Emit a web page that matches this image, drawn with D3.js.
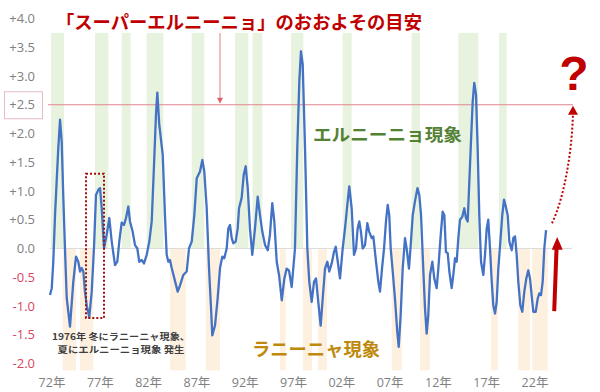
<!DOCTYPE html>
<html><head><meta charset="utf-8">
<script src="https://cdn.jsdelivr.net/npm/d3@7"></script>
<style>
html,body{margin:0;padding:0;background:#fff;}
svg{display:block;}
</style>
</head><body>
<svg id="chart" width="600" height="392"></svg>
<script>
// ---- data ----
const yTicks = [-2.0,-1.5,-1.0,-0.5,0.0,0.5,1.0,1.5,2.0,2.5,3.0,3.5,4.0];
const xTickYears = [1972,1977,1982,1987,1992,1997,2002,2007,2012,2017,2022];
const xTickLabels = ["72年","77年","82年","87年","92年","97年","02年","07年","12年","17年","22年"];
const superThreshold = 2.5;
// El Niño periods (green) [start, end] in years
const elNinoBands = [[1972.1,1973.45],[1976.66,1978.04],[1979.42,1980.35],[1982.0,1983.73],[1986.67,1987.97],[1991.15,1992.53],[1992.97,1993.98],[1996.95,1998.22],[2002.3,2003.23],[2009.44,2010.3],[2014.27,2016.34],[2018.48,2019.28]];
// La Niña periods (orange)
const laNinaBands = [[1973.31,1974.69],[1975.1,1976.48],[1984.42,1986.05],[1988.12,1989.6],[1995.81,1996.4],[1998.19,1999.12],[1999.74,2000.68],[2007.37,2008.41],[2010.3,2011.34],[2017.66,2018.35],[2020.48,2021.69],[2021.93,2023.52]];
// index series: years
const seriesYears = [1972.00,1972.18,1972.34,1972.52,1972.86,1973.04,1973.21,1973.38,1973.55,1973.73,1974.07,1974.41,1974.69,1974.93,1975.11,1975.28,1975.45,1975.62,1975.80,1976.07,1976.32,1976.55,1976.76,1977.00,1977.18,1977.35,1977.59,1977.87,1978.14,1978.39,1978.73,1978.97,1979.17,1979.42,1979.66,1979.87,1980.11,1980.28,1980.56,1980.80,1981.04,1981.24,1981.49,1981.73,1982.01,1982.28,1982.53,1982.77,1982.97,1983.11,1983.31,1983.67,1983.90,1984.08,1984.25,1984.42,1984.60,1984.87,1985.22,1985.46,1985.80,1986.15,1986.39,1986.67,1986.94,1987.19,1987.53,1987.77,1987.97,1988.22,1988.46,1988.67,1988.80,1989.08,1989.36,1989.60,1989.84,1990.04,1990.29,1990.46,1990.63,1990.81,1990.98,1991.22,1991.43,1991.57,1991.84,1992.05,1992.26,1992.47,1992.70,1992.94,1993.22,1993.50,1993.74,1993.98,1994.26,1994.54,1994.77,1995.01,1995.22,1995.47,1995.71,1995.99,1996.26,1996.50,1996.74,1997.02,1997.36,1997.60,1997.81,1997.98,1998.16,1998.40,1998.64,1998.84,1999.09,1999.33,1999.54,1999.77,2000.02,2000.23,2000.47,2000.71,2000.91,2001.16,2001.40,2001.58,2001.74,2002.02,2002.30,2002.54,2002.78,2002.98,2003.23,2003.47,2003.68,2003.85,2004.02,2004.19,2004.37,2004.61,2004.85,2005.05,2005.30,2005.47,2005.75,2005.99,2006.16,2006.37,2006.58,2006.78,2006.96,2007.12,2007.27,2007.48,2007.71,2007.95,2008.10,2008.30,2008.51,2008.75,2008.92,2009.16,2009.34,2009.55,2009.78,2010.04,2010.23,2010.41,2010.64,2010.82,2010.99,2011.16,2011.34,2011.58,2011.78,2012.03,2012.20,2012.45,2012.65,2012.82,2012.99,2013.17,2013.34,2013.58,2013.75,2013.93,2014.10,2014.27,2014.44,2014.68,2014.89,2015.06,2015.24,2015.41,2015.58,2015.76,2015.92,2016.10,2016.27,2016.44,2016.62,2016.86,2017.03,2017.21,2017.37,2017.55,2017.73,2017.89,2018.07,2018.24,2018.41,2018.62,2018.82,2019.00,2019.18,2019.38,2019.55,2019.80,2019.96,2020.14,2020.31,2020.48,2020.69,2020.89,2021.10,2021.31,2021.51,2021.69,2021.86,2022.03,2022.28,2022.49,2022.65,2022.83,2023.00,2023.17,2023.35];
// index series: values
const seriesValues = [-0.81,-0.69,-0.23,0.58,1.75,2.24,1.86,0.88,0.00,-0.86,-1.36,-0.58,-0.14,-0.23,-0.40,-0.34,-0.40,-0.75,-0.99,-1.19,-0.75,0.00,0.93,1.02,1.05,0.71,0.00,0.24,0.53,0.12,-0.29,-0.23,0.12,0.45,0.41,0.53,0.73,0.47,0.29,0.06,0.00,-0.23,-0.20,-0.26,-0.11,0.12,0.47,1.46,2.33,2.71,2.16,1.63,0.58,-0.11,-0.23,-0.20,-0.34,-0.52,-0.75,-0.64,-0.46,-0.40,0.00,0.12,0.58,1.22,1.34,1.54,1.34,0.71,-0.34,-1.04,-1.51,-1.34,-0.86,-0.34,-0.14,-0.17,0.00,0.35,0.41,0.18,0.09,0.12,0.35,0.70,0.88,1.28,1.43,1.05,0.35,-0.11,0.35,0.90,0.58,0.29,0.06,-0.03,0.24,0.79,0.47,-0.23,-0.46,-0.90,-0.52,-0.35,-0.38,-0.67,0.00,1.75,2.91,3.43,3.20,1.75,0.00,-0.58,-0.93,-0.58,-0.52,-0.93,-1.34,-0.87,-0.35,-0.23,-0.40,-0.26,-0.06,0.03,-0.17,-0.52,0.00,0.35,0.76,1.08,0.70,-0.11,0.00,0.35,0.47,0.29,0.00,0.06,0.44,0.29,0.18,0.21,-0.23,-0.58,-0.75,-0.35,0.00,0.47,0.76,0.58,0.00,-0.40,-0.87,-1.45,-1.71,-1.16,-0.35,0.18,0.00,-0.35,0.06,0.58,0.82,1.05,0.93,0.58,-0.35,-1.04,-1.48,-1.16,-0.46,-0.23,-0.52,-0.69,-0.35,0.24,0.64,0.58,-0.06,-0.08,-0.40,-0.69,-0.46,-0.17,-0.23,0.18,0.50,0.55,0.70,0.53,0.47,1.17,1.86,2.56,2.88,2.68,1.75,0.58,-0.23,-0.46,-0.11,0.35,0.50,0.00,-0.58,-0.99,-1.13,-0.93,-0.35,0.12,0.58,0.85,0.73,0.58,0.12,-0.03,0.18,0.21,-0.11,-0.58,-0.99,-1.10,-0.75,-0.52,-0.38,-0.52,-0.81,-1.10,-1.10,-0.87,-0.78,-0.81,-0.58,0.00,0.32];
const titleText = "「スーパーエルニーニョ」のおおよその目安";
const elNinoLabel = "エルニーニョ現象";
const laNinaLabel = "ラニーニャ現象";
const noteLines = ["1976年 冬にラニーニャ現象、","夏にエルニーニョ現象 発生"];
const note1976Box = [1975.73, 1977.59, -1.21, 1.30]; // x0,x1,yLow,yHigh

// ---- drawing ----
const svg = d3.select("#chart");
const x = d3.scaleLinear().domain([1972, 2022]).range([50, 533]);
const y = d3.scaleLinear().domain([-2, 4]).range([363.5, 18.5]);
const cjk = "'Noto Sans CJK JP','Noto Sans',sans-serif";
const num = "'Open Sans','Noto Sans CJK JP',sans-serif";
const dark = "#c00000";

// bands
svg.append("g").selectAll("rect").data(elNinoBands).join("rect")
  .attr("x", d => x(d[0])).attr("width", d => x(d[1]) - x(d[0]))
  .attr("y", y(3.75)).attr("height", y(0) - y(3.75))
  .attr("fill", "#e7f3de");
svg.append("g").selectAll("rect").data(laNinaBands).join("rect")
  .attr("x", d => x(d[0])).attr("width", d => x(d[1]) - x(d[0]))
  .attr("y", y(0)).attr("height", y(-2.12) - y(0))
  .attr("fill", "#fef0df");

// zero line
svg.append("line").attr("x1", 50).attr("x2", 572).attr("y1", y(0)).attr("y2", y(0))
  .attr("stroke", "#dcdcdc").attr("stroke-width", 1);

// threshold line
svg.append("line").attr("x1", 48).attr("x2", 573).attr("y1", y(superThreshold)).attr("y2", y(superThreshold))
  .attr("stroke", "#e3848e").attr("stroke-width", 1.2);

// y axis labels
const yAxis = d3.axisLeft(y).tickValues(yTicks).tickSize(0).tickPadding(0)
  .tickFormat(d => (d > 0 ? "+" : "") + d.toFixed(1));
const gy = svg.append("g").attr("transform", "translate(35,0)").call(yAxis);
gy.select(".domain").remove();
gy.selectAll("text").attr("font-family", num).attr("font-size", 13)
  .attr("fill", d => d < 0 ? "#d9455f" : "#808080");
// box around +2.5
svg.append("rect").attr("x", 4.5).attr("y", y(superThreshold) - 13).attr("width", 38).attr("height", 27)
  .attr("fill", "none").attr("stroke", "#e6bcc6").attr("stroke-width", 1);

// x axis labels
const xAxis = d3.axisBottom(x).tickValues(xTickYears).tickSize(0).tickPadding(0)
  .tickFormat((d, i) => xTickLabels[i]);
const gx = svg.append("g").attr("transform", "translate(1.5,378)").call(xAxis);
gx.select(".domain").remove();
gx.selectAll("text").attr("font-family", num).attr("font-size", 12.5).attr("fill", "#808080");

// series line
const line = d3.line().x((d, i) => x(seriesYears[i])).y(d => y(d));
svg.append("path").datum(seriesValues).attr("d", line)
  .attr("fill", "none").attr("stroke", "#4472c4").attr("stroke-width", 2.3)
  .attr("stroke-linejoin", "round");

// 1976 dotted box
svg.append("rect").attr("x", x(note1976Box[0])).attr("y", y(note1976Box[3]))
  .attr("width", x(note1976Box[1]) - x(note1976Box[0])).attr("height", y(note1976Box[2]) - y(note1976Box[3]))
  .attr("fill", "none").attr("stroke", "#a01010").attr("stroke-width", 2).attr("stroke-dasharray", "2,2");

// note text
svg.append("text").attr("x", 121).attr("y", 340).attr("text-anchor", "middle")
  .attr("font-family", cjk).attr("font-weight", "bold").attr("font-size", 9).attr("fill", "#404040")
  .attr("textLength", 138).attr("lengthAdjust", "spacingAndGlyphs").text(noteLines[0]);
svg.append("text").attr("x", 121).attr("y", 353).attr("text-anchor", "middle")
  .attr("font-family", cjk).attr("font-weight", "bold").attr("font-size", 9).attr("fill", "#404040")
  .attr("textLength", 127).attr("lengthAdjust", "spacingAndGlyphs").text(noteLines[1]);

// title
svg.append("text").attr("x", 56).attr("y", 28.5)
  .attr("font-family", cjk).attr("font-weight", "bold").attr("font-size", 18.5).attr("fill", dark)
  .attr("textLength", 366).attr("lengthAdjust", "spacingAndGlyphs").text(titleText);
// title pointer
const tx = x(1989.6);
svg.append("line").attr("x1", tx).attr("x2", tx).attr("y1", 33).attr("y2", y(superThreshold) - 5)
  .attr("stroke", "#e07a86").attr("stroke-width", 1);
svg.append("path").attr("d", `M${tx-3},${y(superThreshold)-7}L${tx+3},${y(superThreshold)-7}L${tx},${y(superThreshold)-1}Z`)
  .attr("fill", "#e0606e");

// El Niño / La Niña labels
svg.append("text").attr("x", 313).attr("y", 141)
  .attr("font-family", cjk).attr("font-weight", "bold").attr("font-size", 17).attr("fill", "#548235")
  .attr("textLength", 149).attr("lengthAdjust", "spacingAndGlyphs").text(elNinoLabel);
svg.append("text").attr("x", 252).attr("y", 356)
  .attr("font-family", cjk).attr("font-weight", "bold").attr("font-size", 18).attr("fill", "#bf8a0c")
  .attr("textLength", 128).attr("lengthAdjust", "spacingAndGlyphs").text(laNinaLabel);

// solid red arrow
const ax = x(2024.3);
svg.append("line").attr("x1", ax - 1).attr("y1", y(-1.09)).attr("x2", ax + 1.3).attr("y2", y(0.0))
  .attr("stroke", dark).attr("stroke-width", 4);
svg.append("path").attr("d", `M${ax+2},${y(0.2)}L${ax-3.5},${y(-0.02)}L${ax+7.5},${y(-0.02)}Z`).attr("fill", dark);

// dotted curved arrow
const p0 = [x(2023.97), y(0.44)], p1 = [x(2026.14), y(2.36)];
svg.append("path").attr("d", `M${p0[0]},${p0[1]} C${p0[0]+12},${p0[1]-25} ${p1[0]-1},${p1[1]+40} ${p1[0]},${p1[1]}`)
  .attr("fill", "none").attr("stroke", dark).attr("stroke-width", 2).attr("stroke-dasharray", "2,2");
svg.append("path").attr("d", `M${p1[0]},${y(2.5)+1}L${p1[0]-5},${p1[1]+2}L${p1[0]+5},${p1[1]+2}Z`).attr("fill", dark);

// question mark
svg.append("text").attr("x", 574).attr("y", 90).attr("text-anchor", "middle")
  .attr("font-family", "'Liberation Sans','Noto Sans',sans-serif").attr("font-weight", "bold")
  .attr("font-size", 48).attr("fill", dark).text("?");
</script>
</body></html>
